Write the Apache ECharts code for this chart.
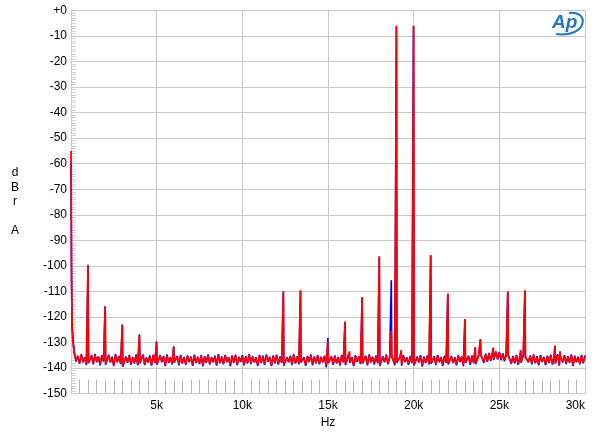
<!DOCTYPE html>
<html>
<head>
<meta charset="utf-8">
<script src="https://cdn.jsdelivr.net/npm/echarts@6/dist/echarts.min.js"></script>
<style>
html,body{margin:0;padding:0;background:#fff;}
#chart{width:600px;height:439px;}
</style>
</head>
<body>
<div id="chart"></div>
<script>
// ---- data ----
const floorStep = 100; // Hz between floor samples, starting at 0 Hz
const redFloor = [
-131,-133,-134.5,-137,-135.5,-138,-135,-137.5,-136,-138.5,-135.2,-137.8,-135.6,-138.2,-134.8,-137.4,-135.9,-138.6,-135.3,-137.1,
-135.8,-138.3,-135.1,-137.6,-136.2,-138.9,-134.9,-137.3,-135.7,-138.1,-135.4,-139.2,-135.9,-137.5,-135.2,-138.4,-136.1,-137.9,-135.3,-138.7,
-135.6,-137.8,-135.0,-138.5,-136.3,-137.4,-135.5,-138.8,-135.2,-137.7,-136.0,-138.3,-135.4,-137.2,-135.8,-138.9,-135.1,-137.6,-136.2,-138.2,
-134.8,-137.5,-135.7,-138.6,-135.3,-137.9,-136.1,-138.4,-135.5,-137.3,-135.9,-138.8,-135.2,-137.7,-136.0,-138.1,-135.4,-139.0,-135.8,-137.6,
-135.1,-138.3,-136.2,-137.5,-135.6,-138.7,-135.0,-137.8,-135.9,-138.2,-135.3,-137.4,-136.1,-138.9,-135.5,-137.6,-135.2,-138.5,-136.0,-137.3,
-135.4,-138.6,-135.7,-137.9,-134.9,-138.1,-135.8,-137.5,-136.2,-138.8,-135.3,-137.7,-135.6,-138.4,-135.1,-137.2,-136.0,-138.9,-135.5,-137.8,
-135.2,-138.3,-135.9,-137.6,-135.4,-138.7,-136.1,-137.4,-135.6,-138.5,-135.0,-137.9,-135.8,-138.2,-135.3,-137.5,-136.2,-138.8,-135.7,-137.3,
-135.1,-138.6,-135.9,-137.8,-135.4,-138.2,-136.0,-137.5,-135.6,-139.3,-135.2,-137.7,-135.8,-138.4,-135.5,-137.9,-136.1,-138.7,-135.3,-137.4,
-135.7,-138.5,-135.0,-137.6,-136.2,-138.9,-135.4,-137.3,-135.9,-138.1,-135.2,-137.8,-135.6,-138.6,-135.1,-137.5,-136.0,-138.3,-135.5,-137.7,
-135.3,-138.8,-135.8,-137.4,-135.1,-138.2,-136.1,-137.9,-135.6,-138.5,-135.0,-137.6,-135.9,-138.7,-135.4,-137.3,-136.2,-138.4,-135.7,-137.8,
-135.2,-138.6,-135.9,-137.5,-135.4,-139.1,-136.0,-137.7,-135.5,-138.3,-135.1,-137.9,-135.8,-138.5,-135.3,-137.4,-136.1,-138.8,-135.6,-137.6,
-135.0,-138.2,-135.7,-137.8,-136.2,-138.6,-135.4,-137.3,-135.9,-138.9,-135.2,-137.6,-135.6,-138.4,-135.5,-137.7,-135.8,-138.1,-135.1,-137.5,
-135.2,-137.6,-134.8,-137.2,-134.5,-136.8,-134.2,-136.5,-133.9,-136.3,-134.1,-136.6,-134.6,-137.0,-135.0,-137.5,-135.4,-138.0,-135.7,-137.9,
-135.3,-138.4,-135.9,-137.6,-135.2,-138.8,-136.0,-137.4,-135.5,-138.2,-135.1,-137.8,-135.8,-138.6,-135.4,-137.3,-136.1,-138.5,-135.6,-137.7,
-135.2,-138.3,-135.7,-137.9,-135.0,-138.7,-135.9,-137.5,-135.4,-138.1,-135.8,-137.6,-135.1,-138.9,-135.6,-137.4,-136.0,-138.2,-135.3,-137.8,
-135.5
];
const blueFloor = [
-128,-132,-134.0,-137.5,-135.2,-138.4,-134.6,-137.9,-135.8,-138.9,-135.0,-138.1,-134.9,-138.6,-134.5,-137.8,-135.5,-139.0,-135.0,-137.6,
-135.4,-138.7,-134.8,-137.9,-135.6,-139.2,-134.6,-137.8,-135.3,-138.5,-135.0,-139.5,-135.5,-138.0,-134.9,-138.8,-135.7,-138.3,-134.7,-139.0,
-135.2,-138.2,-134.7,-138.9,-135.9,-137.9,-135.1,-139.1,-134.8,-138.1,-135.6,-138.7,-135.0,-137.8,-135.3,-139.3,-134.7,-138.0,-135.8,-138.6,
-134.5,-137.9,-135.3,-139.0,-134.9,-138.3,-135.7,-138.8,-135.1,-137.8,-135.5,-139.2,-134.8,-138.1,-135.6,-138.5,-135.0,-139.4,-135.4,-138.0,
-134.7,-138.7,-135.8,-137.9,-135.2,-139.1,-134.6,-138.2,-135.5,-138.6,-134.9,-137.8,-135.7,-139.3,-135.1,-138.0,-134.8,-138.9,-135.6,-137.7,
-135.0,-139.0,-135.3,-138.3,-134.5,-138.5,-135.4,-137.9,-135.8,-139.2,-134.9,-138.1,-135.2,-138.8,-134.7,-137.6,-135.6,-139.3,-135.1,-138.2,
-134.8,-138.7,-135.5,-138.0,-135.0,-139.1,-135.7,-137.8,-135.2,-138.9,-134.6,-138.3,-135.4,-138.6,-134.9,-137.9,-135.8,-139.2,-135.3,-137.7,
-134.7,-139.0,-135.5,-138.2,-135.0,-138.6,-135.6,-137.9,-135.2,-139.8,-134.8,-138.1,-135.4,-138.8,-135.1,-138.3,-135.7,-139.1,-134.9,-137.8,
-135.3,-138.9,-134.6,-138.0,-135.8,-139.3,-135.0,-137.7,-135.5,-138.5,-134.8,-138.2,-135.2,-139.0,-134.7,-137.9,-135.6,-138.7,-135.1,-138.1,
-134.9,-139.2,-135.4,-137.8,-134.7,-138.6,-135.7,-138.3,-135.2,-138.9,-134.6,-138.0,-135.5,-139.1,-135.0,-137.7,-135.8,-138.8,-135.3,-138.2,
-134.8,-139.0,-135.5,-137.9,-135.0,-139.5,-135.6,-138.1,-135.1,-138.7,-134.7,-138.3,-135.4,-138.9,-134.9,-137.8,-135.7,-139.2,-135.2,-138.0,
-134.6,-138.6,-135.3,-138.2,-135.8,-139.0,-135.0,-137.7,-135.5,-139.3,-134.8,-138.0,-135.2,-138.8,-135.1,-138.1,-135.4,-138.5,-134.7,-137.9,
-134.8,-138.0,-134.4,-137.6,-134.1,-137.2,-133.8,-136.9,-133.5,-136.7,-133.7,-137.0,-134.2,-137.4,-134.6,-137.9,-135.0,-138.4,-135.3,-138.3,
-134.9,-138.8,-135.5,-138.0,-134.8,-139.2,-135.6,-137.8,-135.1,-138.6,-134.7,-138.2,-135.4,-139.0,-135.0,-137.7,-135.7,-138.9,-135.2,-138.1,
-134.8,-138.7,-135.3,-138.3,-134.6,-139.1,-135.5,-137.9,-135.0,-138.5,-135.4,-138.0,-134.7,-139.3,-135.2,-137.8,-135.6,-138.6,-134.9,-138.2,
-135.1
];
// low-frequency (DC) roll-off
const lowFreq = [0, 30, 60, 100, 150];
const redLow  = [-55, -100, -122, -129, -132];
const blueLow = [-60, -105, -124, -127, -131];
// spectral spikes
const redSpikeFreq  = [1000,2000,3000,4000,5000,6000,12400,13400,15000,16000,16260,17000,18000,18700,19000,19280,20000,21000,22000,23000,23600,23900,24650,25500,26250,26500,28250,28550];
const redSpikeLevel = [-100,-116,-123.3,-127.2,-130.2,-131.8,-110,-109.6,-129.8,-121.8,-133.5,-112.2,-96.2,-125.5,-6,-133,-6,-95.8,-110.8,-120.8,-131.8,-128.7,-132,-110,-133,-109.6,-131.2,-133.5];
const blueSpikeFreq  = [1000,2000,3000,4000,5000,6000,12400,13400,15000,16000,16260,17000,18000,18700,19000,19280,20000,21000,22000,23000,23600,23900,24650,25500,26250,26500,28250,28550];
const blueSpikeLevel = [-99.6,-115.8,-123,-126.8,-129.6,-131.5,-110.2,-109.8,-128.3,-122,-134,-112.5,-96.5,-105.6,-6.2,-134,-6.2,-96,-111,-121,-132,-129,-132.5,-110.3,-133.5,-110,-131.5,-134];
const spikeHalfWidth = 20; // Hz, half-width of each spectral line's base
const spikeTopHalf = 6;    // Hz, half-width of each spectral line's top
// axes
const xMin = 0, xMax = 30000, xStep = 5000;
const yMin = -150, yMax = 0, yStep = 10;
const yName = ['d','B','r','','A'];
const xName = 'Hz';

function buildSeries(floor, lowF, lowV, spF, spV) {
  const m = new Map();
  floor.forEach((v, i) => m.set(i * floorStep, v));
  lowF.forEach((f, i) => m.set(f, lowV[i]));
  spF.forEach((f, i) => {
    const li = Math.floor((f - 1) / floorStep);
    const ri = Math.ceil((f + 1) / floorStep);
    m.delete(f);
    m.set(f - spikeHalfWidth, floor[li]);
    m.set(f - spikeTopHalf, spV[i]);
    m.set(f + spikeTopHalf, spV[i]);
    m.set(f + spikeHalfWidth, floor[Math.min(ri, floor.length - 1)]);
  });
  return Array.from(m.entries()).sort((a, b) => a[0] - b[0]);
}

const chart = echarts.init(document.getElementById('chart'), null, {renderer: 'canvas'});
const gridCol = '#c8c8c8';
const font = 'Liberation Sans, Arial, sans-serif';

chart.setOption({
  animation: false,
  backgroundColor: '#ffffff',
  textStyle: {fontFamily: font},
  grid: {left: 71, right: 15, top: 10.5, bottom: 45.5, containLabel: false},
  xAxis: {
    type: 'value', min: xMin, max: xMax, interval: xStep,
    name: xName, nameLocation: 'middle', nameGap: 22,
    nameTextStyle: {color: '#000', fontSize: 12, fontFamily: font},
    axisLine: {show: true, onZero: false, lineStyle: {color: gridCol, width: 1}},
    axisTick: {show: true, inside: true, length: 14, lineStyle: {color: gridCol}},
    minorTick: {show: true, splitNumber: 10, length: 14, lineStyle: {color: '#b4b4b4', width: 1}},
    splitLine: {show: true, lineStyle: {color: gridCol, width: 1}},
    axisLabel: {color: '#000', fontSize: 12, fontFamily: font, margin: 6, alignMaxLabel: 'right',
      formatter: v => v === 0 ? '' : (v / 1000) + 'k'}
  },
  yAxis: {
    type: 'value', min: yMin, max: yMax, interval: yStep,
    axisLine: {show: true, onZero: false, lineStyle: {color: gridCol, width: 1}},
    axisTick: {show: true, inside: true, length: 5, lineStyle: {color: gridCol}},
    minorTick: {show: true, splitNumber: 10, length: 5, lineStyle: {color: '#d2d2d2', width: 1}},
    splitLine: {show: true, lineStyle: {color: gridCol, width: 1}},
    axisLabel: {color: '#000', fontSize: 12, fontFamily: font, margin: 4,
      formatter: v => v === 0 ? '+0' : String(v)}
  },
  graphic: [
    ...yName.map((t, i) => ({
      type: 'text', x: 15, y: 173 + i * 14.5,
      style: {text: t, font: '12px ' + font, fill: '#000', align: 'center', verticalAlign: 'middle'}
    })),
    {type: 'text', x: 552, y: 13,
      style: {text: 'Ap', font: 'italic bold 19px ' + font, fill: '#1e78c4'}},
    {type: 'bezierCurve',
      shape: {x1: 556, y1: 34, cpx1: 588, cpy1: 38, cpx2: 590, cpy2: 10, x2: 569, y2: 13},
      style: {stroke: '#1e78c4', lineWidth: 2, fill: null}}
  ],
  series: [
    {type: 'line', name: 'B', data: buildSeries(blueFloor, lowFreq, blueLow, blueSpikeFreq, blueSpikeLevel),
      showSymbol: false, symbol: 'none', sampling: null, lineStyle: {color: '#0000ff', width: 1.6, join: 'bevel'}, z: 2},
    {type: 'line', name: 'A', data: buildSeries(redFloor, lowFreq, redLow, redSpikeFreq, redSpikeLevel),
      showSymbol: false, symbol: 'none', sampling: null, lineStyle: {color: '#ff0000', width: 1.8, join: 'bevel'}, z: 3}
  ]
});
</script>
</body>
</html>
